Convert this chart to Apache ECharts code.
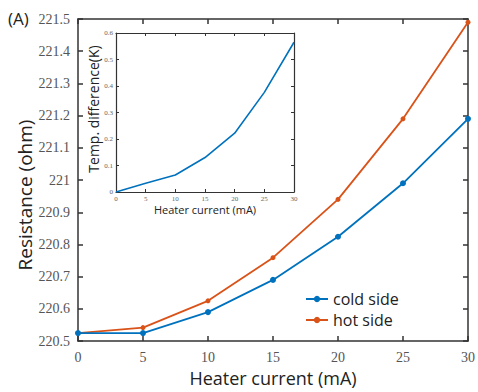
<!DOCTYPE html>
<html>
<head>
<meta charset="utf-8">
<script src="https://cdn.jsdelivr.net/npm/echarts@6/dist/echarts.min.js"></script>
<style>
  html, body { margin: 0; padding: 0; background: #fff; }
  #chart { width: 478px; height: 392px; }
</style>
</head>
<body>
<div id="chart"></div>
<script>
// heater current (mA)
const currents = [0, 5, 10, 15, 20, 25, 30]
// resistance (ohm)
const coldSide = [220.525, 220.525, 220.59, 220.69, 220.824, 220.99, 221.19]
const hotSide = [220.525, 220.542, 220.625, 220.759, 220.94, 221.19, 221.49]
// inset: temperature difference (K)
const tempDiff = [0, 0.033, 0.064, 0.13, 0.222, 0.376, 0.565]

const BLUE = '#0072BD'
const ORANGE = '#D95319'
const SERIF = '"Liberation Serif", "DejaVu Serif", serif'
const SANS = '"Open Sans", "Noto Sans", sans-serif'

const pair = (xs, ys) => xs.map((x, i) => [x, ys[i]])

const fmt = (v) => String(+v.toFixed(1))

function boxAxis(gridIndex, position, opts) {
  return Object.assign({
    gridIndex,
    position,
    type: 'value',
    axisLine: { show: true, onZero: false, lineStyle: { color: '#333', width: 1.5 } },
    axisTick: { show: true, inside: true, length: 5, lineStyle: { color: '#333', width: 1.5 } },
    axisLabel: { show: false },
    splitLine: { show: false },
  }, opts)
}

// inset axes are thinner with shorter ticks
const insetLine = { show: true, onZero: false, lineStyle: { color: '#333', width: 1.2 } }
const insetTick = { show: true, inside: true, length: 3, lineStyle: { color: '#333' } }

// vertical axis titles placed by hand (rotated text)
const vTitle = (text, x, y, size) => ({
  type: 'text', x, y, rotation: Math.PI / 2,
  style: { text, font: size + 'px ' + SANS, fill: '#222', align: 'center', verticalAlign: 'middle' },
})

const chart = echarts.init(document.getElementById('chart'), null, { renderer: 'svg' })

chart.setOption({
  animation: false,
  backgroundColor: '#fff',
  graphic: [
    { type: 'text', left: 8, top: 10, style: { text: '(A)', font: '17px ' + SANS, fill: '#222' } },
    vTitle('Resistance (ohm)', 25, 195, 19),
    vTitle('Temp. difference(K)', 93, 109, 14),
  ],
  grid: [
    { left: 78, right: 6, top: 19, bottom: 42 },
    { left: 116, right: 184, top: 33, bottom: 200, show: true, backgroundColor: '#fff', borderWidth: 0 },
  ],
  xAxis: [
    boxAxis(0, 'bottom', {
      min: 0, max: 30, interval: 5,
      axisLabel: { show: true, margin: 9, fontFamily: SERIF, fontSize: 14, color: '#555' },
      name: 'Heater current (mA)', nameLocation: 'middle', nameGap: 22,
      nameTextStyle: { fontFamily: SANS, fontSize: 18, color: '#222' },
    }),
    boxAxis(0, 'top', { min: 0, max: 30, interval: 5 }),
    boxAxis(1, 'bottom', {
      min: 0, max: 30, interval: 5,
      axisLine: insetLine, axisTick: insetTick,
      axisLabel: { show: true, margin: 3, fontFamily: SERIF, fontSize: 7, color: '#666' },
      name: 'Heater current (mA)', nameLocation: 'middle', nameGap: 12,
      nameTextStyle: { fontFamily: SANS, fontSize: 11, color: '#222' },
    }),
    boxAxis(1, 'top', { min: 0, max: 30, interval: 5, axisLine: insetLine, axisTick: insetTick }),
  ],
  yAxis: [
    boxAxis(0, 'left', {
      min: 220.5, max: 221.5, interval: 0.1,
      axisLabel: { show: true, margin: 8, fontFamily: SERIF, fontSize: 14, color: '#555', formatter: fmt },
    }),
    boxAxis(0, 'right', { min: 220.5, max: 221.5, interval: 0.1 }),
    boxAxis(1, 'left', {
      min: 0, max: 0.6, interval: 0.1,
      axisLine: insetLine, axisTick: insetTick,
      axisLabel: { show: true, margin: 3, fontFamily: SERIF, fontSize: 7, color: '#666', formatter: fmt },
    }),
    boxAxis(1, 'right', { min: 0, max: 0.6, interval: 0.1, axisLine: insetLine, axisTick: insetTick }),
  ],
  legend: {
    left: 300, top: 286, orient: 'vertical', itemGap: 5,
    itemWidth: 22, itemHeight: 8,
    textStyle: { fontFamily: SANS, fontSize: 16, color: '#222' },
    data: ['cold side', 'hot side'],
  },
  series: [
    {
      name: 'cold side', type: 'line', xAxisIndex: 0, yAxisIndex: 0,
      data: pair(currents, coldSide),
      symbol: 'circle', symbolSize: 6,
      lineStyle: { color: BLUE, width: 1.8 }, itemStyle: { color: BLUE },
      z: 3,
    },
    {
      name: 'hot side', type: 'line', xAxisIndex: 0, yAxisIndex: 0,
      data: pair(currents, hotSide),
      symbol: 'circle', symbolSize: 5,
      lineStyle: { color: ORANGE, width: 1.8 }, itemStyle: { color: ORANGE },
      z: 2,
    },
    {
      name: 'temp diff', type: 'line', xAxisIndex: 2, yAxisIndex: 2,
      data: pair(currents, tempDiff),
      symbol: 'none',
      lineStyle: { color: BLUE, width: 1.6 },
    },
  ],
})
</script>
</body>
</html>
